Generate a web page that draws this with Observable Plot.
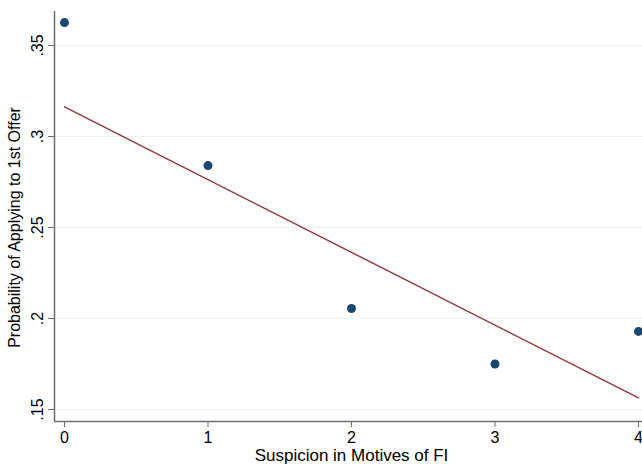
<!DOCTYPE html>
<html><head><meta charset="utf-8">
<script src="https://cdn.jsdelivr.net/npm/d3@7"></script>
<script src="https://cdn.jsdelivr.net/npm/@observablehq/plot@0.6"></script>
<style>body{margin:0;background:#fff}svg{display:block}</style>
</head><body><div id="chart"></div>
<script>
const suspicion = [0, 1, 2, 3, 4];
const probApply = [0.3626, 0.284, 0.2055, 0.175, 0.1929];
const fitX = [0, 4];
const fitY = [0.3163, 0.1564];
const yTicks = [0.15, 0.2, 0.25, 0.3, 0.35];
const xTicks = [0, 1, 2, 3, 4];

const pts = suspicion.map((x, i) => ({x, y: probApply[i]}));
const fit = fitX.map((x, i) => ({x, y: fitY[i]}));
const xDom = [-0.0697, 4.028];
const yDom = [0.14341, 0.36868];
const font = "Liberation Sans, Arial, Helvetica, sans-serif";

const chart = Plot.plot({
  width: 642, height: 465,
  marginLeft: 54, marginRight: 0, marginTop: 11, marginBottom: 44,
  style: {fontFamily: font, fontSize: "16px", background: "#fff", color: "#000"},
  x: {domain: xDom},
  y: {domain: yDom},
  marks: [
    Plot.gridY(yTicks, {stroke: "#eaf2f3", strokeOpacity: 1, strokeWidth: 1.2}),
    Plot.ruleX([xDom[0]], {stroke: "#6e6e6e", strokeWidth: 1.5}),
    Plot.ruleY([yDom[0]], {stroke: "#6e6e6e", strokeWidth: 1.5}),
    Plot.axisX(xTicks, {tickSize: 6, tickPadding: 4, stroke: "#6e6e6e", fill: "#000", fontSize: 16,
      tickFormat: d3.format("d"), label: null}),
    Plot.text(["Suspicion in Motives of FI"], {frameAnchor: "bottom", x: () => 2, text: d => d,
      dy: 34, fontSize: 17, fill: "#000", textAnchor: "middle", lineAnchor: "middle"}),
    Plot.axisY(yTicks, {tickSize: 6, stroke: "#6e6e6e", text: null, label: null}),
    Plot.text(yTicks, {x: () => xDom[0], y: d => d, text: d => String(d).replace(/^0/, ""),
      rotate: -90, dx: -17, fontSize: 16, fill: "#000", textAnchor: "middle", lineAnchor: "middle"}),
    Plot.text(["Probability of Applying to 1st Offer"], {x: () => xDom[0], y: () => 0.25, text: d => d,
      rotate: -90, dx: -40, fontSize: 16, fill: "#000", textAnchor: "middle", lineAnchor: "middle"}),
    Plot.line(fit, {x: "x", y: "y", stroke: "#90353b", strokeWidth: 1.4}),
    Plot.dot(pts, {x: "x", y: "y", r: 4.5, fill: "#1a476f", stroke: "none"})
  ]
});
document.getElementById("chart").append(chart);
</script></body></html>
